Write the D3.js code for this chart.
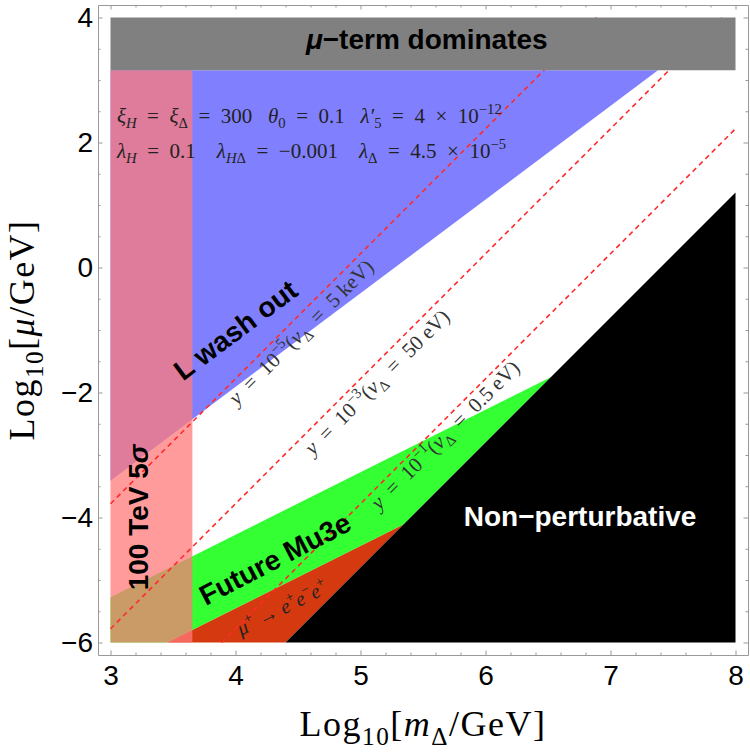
<!DOCTYPE html>
<html>
<head>
<meta charset="utf-8">
<script src="https://cdn.jsdelivr.net/npm/d3@7"></script>
<style>
  body { margin: 0; background: #fff; }
  text { white-space: pre; }
</style>
</head>
<body>
<div id="chart"></div>
<script>
// ---- data (log10 units) ----
const xRange = [3, 8];          // Log10[m_Delta/GeV]
const yRange = [-6, 4];         // Log10[mu/GeV]
const xMajor = [3, 4, 5, 6, 7, 8];
const yMajor = [-6, -4, -2, 0, 2, 4];

// region outlines
const muTermRegion   = [[3, 3.155], [8, 3.155], [8, 4], [3, 4]];
const washOutRegion  = [[3, -3.41], [7.38, 3.155], [3, 3.155]];
const mu3eFutRegion  = [[3, -5.275], [6.525, -1.75], [5.345, -4.11], [3.455, -6], [3, -6]];
const mu3eNowRegion  = [[3.455, -6], [5.345, -4.11], [4.4, -6]];
const nonPertRegion  = [[4.4, -6], [8, 1.2], [8, -6]];
const collider5sig   = [[3, -6], [3.655, -6], [3.655, 3.155], [3, 3.155]];

// constant-Yukawa lines y = 10^-5, 10^-3, 10^-1
const yukawaExp  = ["−5", "−3", "−1"];
const yukawaVev  = ["5 keV", "50 eV", "0.5 eV"];
const yukawaLines = [
  [[3, -3.78], [6.89, 4]],
  [[3, -5.78], [7.89, 4]],
  [[3.89, -6], [8, 2.22]]
];

// ---- layout ----
const W = 750, H = 753;
const frame = { left: 98, right: 748, top: 5, bottom: 655 };
const pad = 0.02;

const x = d3.scaleLinear()
  .domain([xRange[0] - pad * 5, xRange[1] + pad * 5])
  .range([frame.left, frame.right]);
const y = d3.scaleLinear()
  .domain([yRange[0] - pad * 10, yRange[1] + pad * 10])
  .range([frame.bottom, frame.top]);

const svg = d3.select("#chart").append("svg")
  .attr("width", W).attr("height", H);

const line = d3.line().x(d => x(d[0])).y(d => y(d[1]));
const area = pts => line(pts) + "Z";

const SERIF = "'Liberation Serif', 'Times New Roman', serif";
const SANS = "'Liberation Sans', Arial, sans-serif";

// text with sub/superscripts: parts = [text, kind, dx]
function rich(sel, parts, size) {
  let shift = 0;
  parts.forEach(([t, k = "", dx = 0]) => {
    const sub = k.includes("b"), sup = k.includes("p");
    const target = sub ? size * 0.25 : sup ? -size * 0.42 : 0;
    sel.append("tspan")
      .attr("dy", target - shift)
      .attr("dx", dx)
      .style("font-size", ((sub || sup) ? size * 0.7 : size) + "px")
      .style("font-style", k.includes("i") ? "italic" : "normal")
      .text(t);
    shift = target;
  });
}

// ---- regions ----
const regions = svg.append("g");
regions.append("path").attr("d", area(washOutRegion)).attr("fill", "#8080ff");
regions.append("path").attr("d", area(mu3eFutRegion)).attr("fill", "#33ff33");
regions.append("path").attr("d", area(mu3eNowRegion)).attr("fill", "#d5390f");
regions.append("path").attr("d", area(nonPertRegion)).attr("fill", "#000");
regions.append("path").attr("d", area(collider5sig))
  .attr("fill", "#ff7a7a").attr("fill-opacity", 0.75);

// dashed yukawa lines
svg.append("g").selectAll("path")
  .data(yukawaLines)
  .enter().append("path")
  .attr("d", line)
  .attr("fill", "none")
  .attr("stroke", "#ff2a2a")
  .attr("stroke-width", 1.6)
  .attr("stroke-dasharray", "5,4");

svg.append("path").attr("d", area(muTermRegion)).attr("fill", "#808080");

// ---- labels ----
function label(px, py, angle, txt, opts) {
  const t = svg.append("text")
    .attr("transform", `translate(${x(px)},${y(py)}) rotate(${angle})`)
    .attr("text-anchor", "middle")
    .attr("dy", "0.35em")
    .attr("font-family", opts.family)
    .attr("font-size", opts.size)
    .attr("font-weight", opts.weight || "normal")
    .attr("fill", opts.fill || "#000");
  if (typeof txt === "string") t.text(txt);
  else rich(t, txt, opts.size);
  return t;
}

const boldOpts = { family: SANS, size: 28, weight: "bold" };

label(5.53, 3.5, 0, [["μ", "i"], ["−term dominates"]], boldOpts);
label(4.0, -1.0, -36.87, "L wash out", boldOpts);
label(3.3, -4.0, -90, [["100 TeV 5"], ["σ", "i"]], boldOpts);
label(4.316, -4.66, -27.5, "Future Mu3e", boldOpts);
label(6.756, -3.98, 0, "Non−perturbative", { family: SANS, size: 28, weight: "bold", fill: "#fff" });

label(4.396, -5.544, -26.57,
  [["μ", "i"], ["+", "p"], [" → "], ["e", "i"], ["+", "p"], ["e", "i"], ["−", "p"], ["e", "i"], ["+", "p"]],
  { family: SERIF, size: 20, fill: "#222" });

const yukawaAt = [[4.564, -1.112], [5.172, -1.912], [5.716, -2.76]];
yukawaExp.forEach((e, i) => {
  label(yukawaAt[i][0], yukawaAt[i][1], -45,
    [["y", "i"], ["  =  10"], [e, "p"], ["("], ["v", "i"], ["Δ", "b"], ["  =  " + yukawaVev[i] + ")"]],
    { family: SERIF, size: 21, fill: "#333" });
});

// parameter box
const params = [
  [["ξ", "i"], ["H", "ib"], ["  =  "], ["ξ", "i"], ["Δ", "b"], ["  =  300   "], ["θ", "i"], ["0", "b"],
   ["  =  0.1   "], ["λ′", "i"], ["5", "b"], ["  =  4  ×  10"], ["−12", "p"]],
  [["λ", "i"], ["H", "ib"], ["  =  0.1    "], ["λ", "i"], ["H", "ib"], ["Δ", "b"], ["  =  −0.001    "],
   ["λ", "i"], ["Δ", "b"], ["  =  4.5  ×  10"], ["−5", "p"]]
];
const paramBase = [2.312, 1.752];
params.forEach((p, i) => {
  const t = svg.append("text")
    .attr("x", x(3.052)).attr("y", y(paramBase[i]))
    .attr("font-family", SERIF).attr("font-size", 21).attr("fill", "#222");
  rich(t, p, 21);
});

// ---- frame and ticks ----
const xMinor = d3.range(3, 8.001, 0.2).filter(v => Math.abs(v - Math.round(v)) > 1e-6);
const yMinor = d3.range(-6, 4.001, 0.5).filter(v => Math.abs(v / 2 - Math.round(v / 2)) > 1e-6);

function frameAxis(axisFn, scale, tf, major, minor, showLabels) {
  const g = svg.append("g").attr("transform", tf).attr("color", "#999");
  g.call(axisFn(scale).tickValues(major).tickSizeInner(-4.5).tickSizeOuter(0)
      .tickPadding(axisFn === d3.axisBottom ? 10 : 5)
      .tickFormat(showLabels ? d3.format("") : ""))
    .attr("font-size", 28).attr("font-family", SANS);
  g.selectAll("text").attr("fill", "#000");
  const m = svg.append("g").attr("transform", tf).attr("color", "#999");
  m.call(axisFn(scale).tickValues(minor).tickSizeInner(-2.5).tickSizeOuter(0).tickFormat(""));
  m.select(".domain").remove();
}
frameAxis(d3.axisBottom, x, `translate(0,${frame.bottom})`, xMajor, xMinor, true);
frameAxis(d3.axisTop, x, `translate(0,${frame.top})`, xMajor, xMinor, false);
frameAxis(d3.axisLeft, y, `translate(${frame.left},0)`, yMajor, yMinor, true);
frameAxis(d3.axisRight, y, `translate(${frame.right},0)`, yMajor, yMinor, false);

// axis titles
const yTitle = svg.append("text")
  .attr("transform", `translate(34,${(frame.top + frame.bottom) / 2}) rotate(-90)`)
  .attr("text-anchor", "middle")
  .attr("font-family", SERIF).attr("font-size", 36)
  .attr("letter-spacing", 1.5);
rich(yTitle, [["Log"], ["10", "b"], ["["], ["μ", "i"], ["/GeV]"]], 36);

const xTitle = svg.append("text")
  .attr("x", (frame.left + frame.right) / 2).attr("y", 736)
  .attr("text-anchor", "middle")
  .attr("font-family", SERIF).attr("font-size", 36)
  .attr("letter-spacing", 1.5);
rich(xTitle, [["Log"], ["10", "b"], ["["], ["m", "i"], ["Δ", "b"], ["/GeV]"]], 36);
</script>
</body>
</html>
